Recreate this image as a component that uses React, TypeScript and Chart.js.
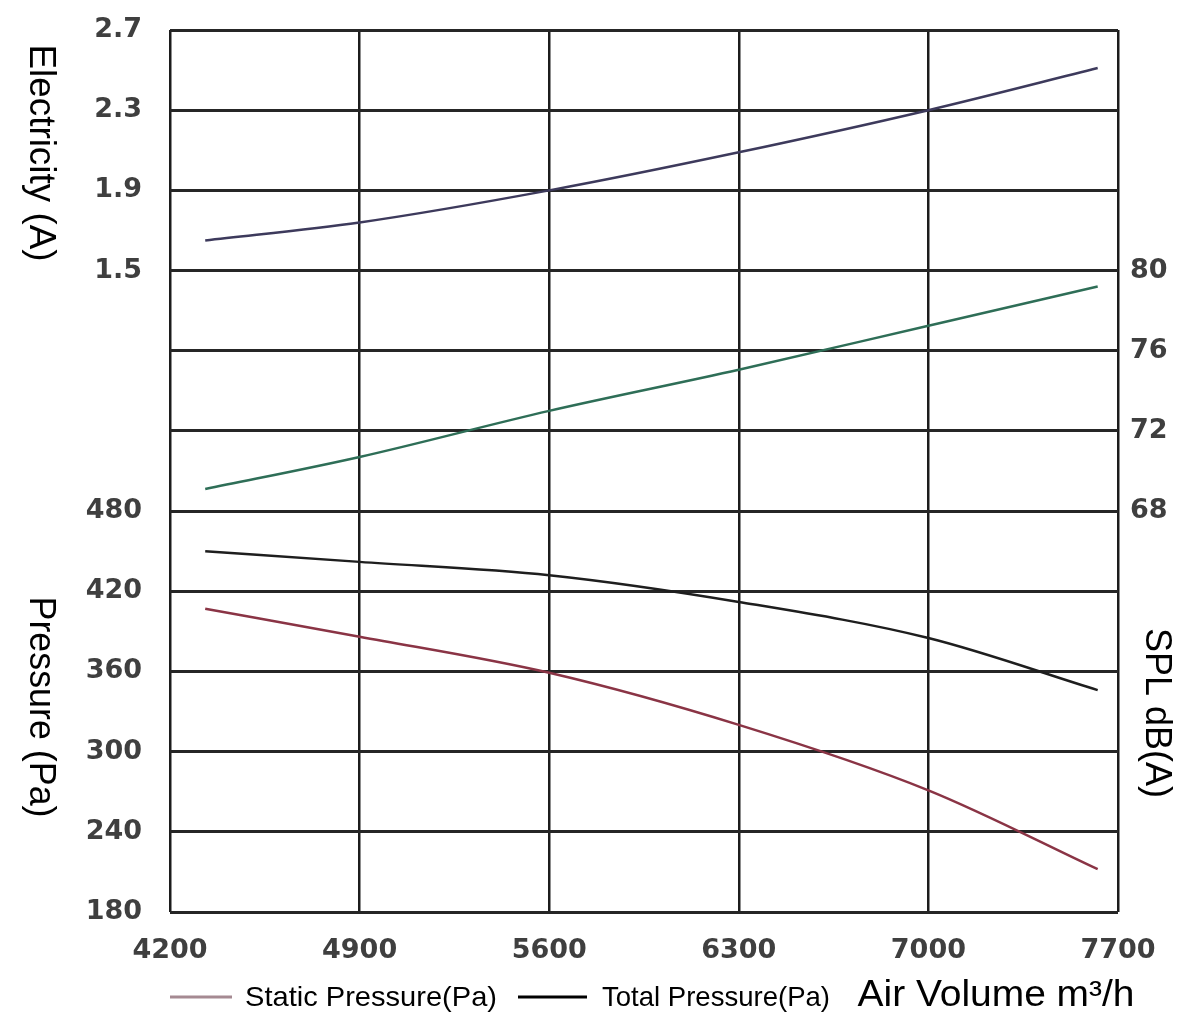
import React, { useEffect, useRef } from "react";
import { Chart, registerables } from "chart.js";

Chart.register(...registerables);

// ---- data ----
const airVolume = [4330, 4900, 5600, 6300, 7000, 7625];
const electricity = [1.65, 1.74, 1.9, 2.09, 2.3, 2.51];
const splDb = [69.1, 70.7, 73.0, 75.05, 77.25, 79.2];
const totalPressure = [450, 442, 432, 412, 385, 346];
const staticPressure = [407, 386, 359, 320, 271, 212];

const xTickLabels = ["4200", "4900", "5600", "6300", "7000", "7700"];
const leftTickLabels = ["180", "240", "300", "360", "420", "480", "", "", "1.5", "1.9", "2.3", "2.7"];
const splTickLabels = ["68", "72", "76", "80"];

const FONT = "'Liberation Sans', Arial, Helvetica, sans-serif";

function fitText(
  ctx: CanvasRenderingContext2D,
  text: string,
  cx: number,
  cy: number,
  size: number,
  targetLen: number,
  rot: number
) {
  ctx.save();
  ctx.font = `${size}px ${FONT}`;
  const w = ctx.measureText(text).width;
  ctx.translate(cx, cy);
  ctx.rotate(rot);
  ctx.scale(targetLen / w, 1);
  ctx.textAlign = "center";
  ctx.textBaseline = "middle";
  ctx.fillStyle = "#000";
  ctx.fillText(text, 0, 0);
  ctx.restore();
}

const annotationsPlugin = {
  id: "customText",
  afterDraw(chart: any) {
    const ctx = chart.ctx as CanvasRenderingContext2D;
    fitText(ctx, "Electricity (A)", 40, 153, 36, 217, Math.PI / 2);
    fitText(ctx, "Pressure (Pa)", 40, 707, 36, 221, Math.PI / 2);
    fitText(ctx, "SPL dB(A)", 1156, 713, 36, 170, Math.PI / 2);

    // legend
    ctx.save();
    ctx.lineWidth = 3;
    ctx.strokeStyle = "#a58a92";
    ctx.beginPath();
    ctx.moveTo(170, 997);
    ctx.lineTo(232, 997);
    ctx.stroke();
    ctx.strokeStyle = "#000";
    ctx.beginPath();
    ctx.moveTo(518, 997);
    ctx.lineTo(587, 997);
    ctx.stroke();
    ctx.restore();
    fitText(ctx, "Static Pressure(Pa)", 245 + 126, 998, 28, 252, 0);
    fitText(ctx, "Total Pressure(Pa)", 602 + 114, 998, 28, 228, 0);
    fitText(ctx, "Air Volume m³/h", 858 + 138, 996, 36, 277, 0);
  },
};

const toPts = (ys: number[]) => airVolume.map((x, i) => ({ x, y: ys[i] }));

export default function App() {
  const ref = useRef<HTMLCanvasElement | null>(null);

  useEffect(() => {
    if (!ref.current) return;
    const tickFont = { family: "'DejaVu Sans', Arial, sans-serif", size: 27, weight: "bold" as const };
    const chart = new Chart(ref.current, {
      type: "line",
      data: {
        datasets: [
          {
            label: "Electricity (A)",
            data: toPts(electricity),
            yAxisID: "yE",
            borderColor: "#3d3a5c",
            borderWidth: 2.5,
            pointRadius: 0,
            cubicInterpolationMode: "monotone",
          },
          {
            label: "SPL dB(A)",
            data: toPts(splDb),
            yAxisID: "yS",
            borderColor: "#2e6e57",
            borderWidth: 2.5,
            pointRadius: 0,
            cubicInterpolationMode: "monotone",
          },
          {
            label: "Total Pressure(Pa)",
            data: toPts(totalPressure),
            yAxisID: "yP",
            borderColor: "#1e1e1e",
            borderWidth: 2.5,
            pointRadius: 0,
            cubicInterpolationMode: "monotone",
          },
          {
            label: "Static Pressure(Pa)",
            data: toPts(staticPressure),
            yAxisID: "yP",
            borderColor: "#8a3445",
            borderWidth: 2.5,
            pointRadius: 0,
            cubicInterpolationMode: "monotone",
          },
        ],
      },
      options: {
        animation: false,
        responsive: false,
        layout: { padding: { top: 30, left: 0, right: 0, bottom: 0 } },
        plugins: { legend: { display: false }, tooltip: { enabled: false } },
        scales: {
          x: {
            type: "linear",
            min: 4200,
            max: 7700,
            border: { display: false },
            grid: { color: "#1c1c1c", lineWidth: 2.5, drawTicks: false },
            ticks: {
              stepSize: 700,
              padding: 23,
              color: "#3f3f3f",
              font: tickFont,
              maxRotation: 0,
              autoSkip: false,
              callback: (_v: any, i: number) => xTickLabels[i],
            },
            afterFit: (s: any) => {
              s.height = 124;
              s.paddingLeft = 0;
              s.paddingRight = 0;
            },
          },
          yP: {
            type: "linear",
            position: "left",
            min: 180,
            max: 840,
            border: { display: false },
            grid: { color: "#262626", lineWidth: 3, drawTicks: false },
            ticks: {
              stepSize: 60,
              padding: 28,
              color: "#3f3f3f",
              font: tickFont,
              autoSkip: false,
              callback: (_v: any, i: number) => leftTickLabels[i],
            },
            afterFit: (s: any) => {
              s.width = 170;
              s.paddingTop = 0;
              s.paddingBottom = 0;
            },
          },
          yS: {
            type: "linear",
            position: "right",
            min: 48,
            max: 92,
            border: { display: false },
            grid: { display: false, drawTicks: false },
            ticks: {
              stepSize: 4,
              padding: 12,
              color: "#3f3f3f",
              font: tickFont,
              autoSkip: false,
              callback: (v: any) => (splTickLabels.includes(String(v)) ? String(v) : ""),
            },
            afterFit: (s: any) => {
              s.width = 82;
              s.paddingTop = 0;
              s.paddingBottom = 0;
            },
          },
          yE: {
            type: "linear",
            display: false,
            min: -1.7,
            max: 2.7,
          },
        },
      },
      plugins: [annotationsPlugin],
    });
    return () => chart.destroy();
  }, []);

  return (
    <div style={{ position: "absolute", left: 0, top: 0, width: 1200, height: 1036, background: "#fff" }}>
      <canvas ref={ref} width={1200} height={1036} style={{ display: "block" }} />
    </div>
  );
}
